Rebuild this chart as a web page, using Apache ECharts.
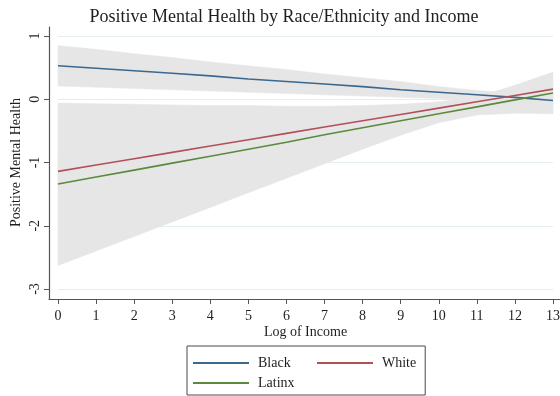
<!DOCTYPE html>
<html>
<head>
<meta charset="utf-8">
<script src="https://cdn.jsdelivr.net/npm/echarts@6/dist/echarts.min.js"></script>
<style>
  html, body { margin: 0; padding: 0; background: #fff; }
  #chart { width: 560px; height: 396px; }
</style>
</head>
<body>
<div id="chart"></div>
<script>
// log of income, points where the margins were read
var logIncome = [0, 1, 2, 3, 4, 5, 6, 7, 8, 9, 10, 11, 12, 13];

// predicted positive mental health
var black  = [0.53, 0.49, 0.45, 0.41, 0.37, 0.32, 0.28, 0.24, 0.20, 0.15, 0.11, 0.07, 0.03, -0.02];
var white  = [-1.14, -1.04, -0.94, -0.84, -0.74, -0.64, -0.54, -0.44, -0.34, -0.24, -0.14, -0.04, 0.06, 0.16];
var latinx = [-1.34, -1.23, -1.12, -1.01, -0.90, -0.79, -0.68, -0.56, -0.45, -0.34, -0.23, -0.12, -0.01, 0.10];

// confidence bands (lower / upper)
var blackLo  = [0.21, 0.19, 0.17, 0.15, 0.13, 0.11, 0.09, 0.07, 0.05, 0.03, 0.01, -0.03, -0.08, -0.14];
var blackHi  = [0.85, 0.79, 0.72, 0.66, 0.59, 0.53, 0.47, 0.40, 0.34, 0.28, 0.20, 0.14, 0.10, 0.09];
var whiteLo  = [-1.40, -1.27, -1.14, -1.01, -0.89, -0.76, -0.63, -0.51, -0.39, -0.28, -0.17, -0.08, 0.01, 0.10];
var whiteHi  = [-0.88, -0.81, -0.74, -0.67, -0.59, -0.52, -0.45, -0.37, -0.29, -0.20, -0.11, 0.00, 0.11, 0.22];
var latinxLo = [-2.63, -2.40, -2.17, -1.94, -1.71, -1.48, -1.25, -1.02, -0.79, -0.57, -0.37, -0.25, -0.22, -0.23];
var latinxHi = [-0.06, -0.07, -0.08, -0.09, -0.10, -0.10, -0.11, -0.11, -0.10, -0.08, -0.04, 0.04, 0.22, 0.43];

var xTicks = [0, 13, 1];   // min, max, step
var yTicks = [-3, 1, 1];

var serif = "'Liberation Serif', 'DejaVu Serif', serif";
var textColor = '#1e1e1e';
var bandColor = '#e6e6e6';
var colors = { Black: '#3c6890', White: '#b2505a', Latinx: '#5b8a3c' };

function pairs(ys) {
    return logIncome.map(function (x, i) { return [x, ys[i]]; });
}

// one polygon per band, corners placed by the axes
function band(name, lo, hi) {
    return {
        name: name, type: 'custom', silent: true, z: 1,
        data: pairs(lo).concat(pairs(hi)),
        encode: { x: 0, y: 1 },
        renderItem: function (params, api) {
            if (params.dataIndex !== 0) return;
            var pts = [];
            for (var i = 0; i < logIncome.length; i++) pts.push(api.coord([logIncome[i], lo[i]]));
            for (var j = logIncome.length - 1; j >= 0; j--) pts.push(api.coord([logIncome[j], hi[j]]));
            return {
                type: 'polygon',
                shape: { points: pts },
                style: { fill: bandColor, stroke: bandColor, lineWidth: 0.5 }
            };
        }
    };
}

function fitLine(name, ys) {
    return {
        name: name, type: 'line', data: pairs(ys), symbol: 'none', z: 3,
        color: colors[name],
        lineStyle: { color: colors[name], width: 1.6 }
    };
}

var chart = echarts.init(document.getElementById('chart'));
var option = {
    animation: false,
    backgroundColor: '#fff',
    title: {
        text: 'Positive Mental Health by Race/Ethnicity and Income',
        left: 279, textAlign: 'center',
        top: 3,
        textStyle: { fontFamily: serif, fontSize: 18, fontWeight: 'normal', color: textColor }
    },
    grid: [
        { left: 58, right: 7, top: 36, bottom: 107, outerBoundsMode: 'none' },   // data
        { left: 49, right: 0, top: 27, bottom: 97, outerBoundsMode: 'none' }     // axis frame
    ],
    legend: {
        data: ['Black', 'Latinx', 'White'],
        orient: 'vertical',
        left: 187, top: 346,
        height: 36,
        itemGap: 6,
        itemWidth: 56, itemHeight: 2,
        icon: 'rect',
        padding: [10, 9, 5, 6],
        borderColor: '#4a4a4a', borderWidth: 1,
        formatter: function (name) {
            return name === 'White' ? '{w|' + name + '}' : '{k|' + name + '}';
        },
        textStyle: {
            fontFamily: serif, fontSize: 14, color: textColor,
            rich: {
                k: { width: 53, padding: [0, 0, 0, 4], fontFamily: serif, fontSize: 14, lineHeight: 14 },
                w: { width: 33, padding: [0, 0, 0, 4], fontFamily: serif, fontSize: 14, lineHeight: 14 }
            }
        }
    },
    xAxis: [
        {
            type: 'value', gridIndex: 0,
            min: xTicks[0], max: xTicks[1], interval: xTicks[2],
            offset: 10,
            name: 'Log of Income', nameLocation: 'middle', nameGap: 26, nameMoveOverlap: false,
            nameTextStyle: { fontFamily: serif, fontSize: 14, color: textColor },
            axisLine: { show: false, onZero: false },
            axisTick: { show: true, length: 5, lineStyle: { color: '#555' } },
            axisLabel: { fontFamily: serif, fontSize: 14, color: textColor, margin: 10 },
            splitLine: { show: false }
        },
        {
            type: 'value', gridIndex: 1, min: 0, max: 1,
            axisLine: { show: true, onZero: false, lineStyle: { color: '#555', width: 1.2 } },
            axisTick: { show: false }, axisLabel: { show: false }, splitLine: { show: false }
        }
    ],
    yAxis: [
        {
            type: 'value', gridIndex: 0,
            min: yTicks[0], max: yTicks[1], interval: yTicks[2],
            offset: 9,
            name: 'Positive Mental Health', nameLocation: 'middle', nameGap: 26, nameMoveOverlap: false,
            nameTextStyle: { fontFamily: serif, fontSize: 14, color: textColor },
            axisLine: { show: false, onZero: false },
            axisTick: { show: true, length: 5, lineStyle: { color: '#555' } },
            axisLabel: { fontFamily: serif, fontSize: 14, color: textColor, rotate: 90, margin: 7 },
            splitLine: { show: true, lineStyle: { color: '#e4eef1', width: 1 } }
        },
        {
            type: 'value', gridIndex: 1, min: 0, max: 1,
            axisLine: { show: true, onZero: false, lineStyle: { color: '#555', width: 1.2 } },
            axisTick: { show: false }, axisLabel: { show: false }, splitLine: { show: false }
        }
    ],
    series: [
        band('blackCI', blackLo, blackHi),
        band('whiteCI', whiteLo, whiteHi),
        band('latinxCI', latinxLo, latinxHi),
        fitLine('Black', black),
        fitLine('White', white),
        fitLine('Latinx', latinx)
    ]
};
chart.setOption(option);
</script>
</body>
</html>
